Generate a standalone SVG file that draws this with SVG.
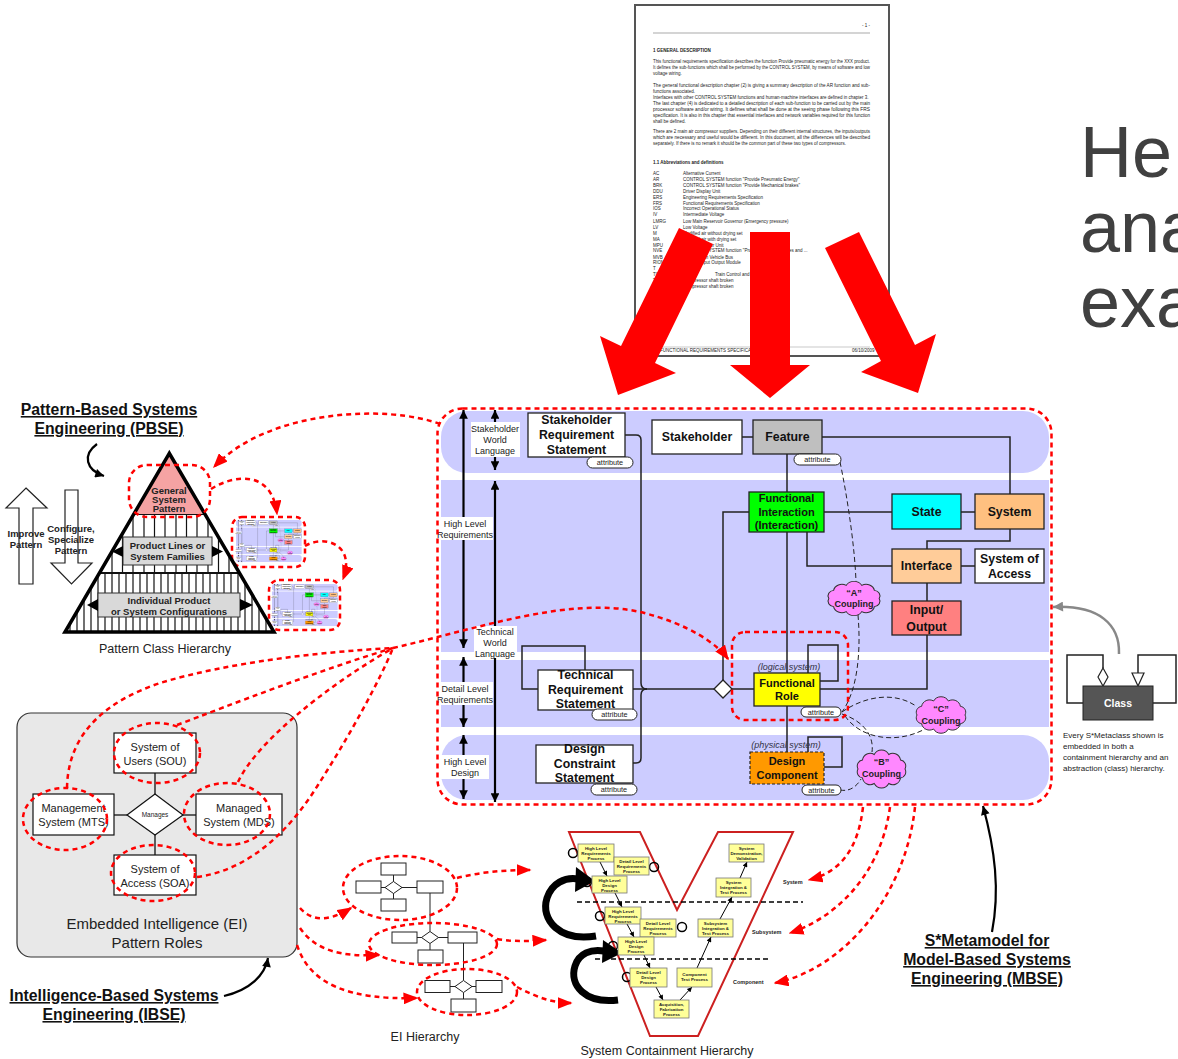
<svg xmlns="http://www.w3.org/2000/svg" width="1178" height="1059" viewBox="0 0 1178 1059">
<defs>
<style>
text{font-family:"Liberation Sans",Arial,sans-serif}
.rd{fill:none;stroke:#f00;stroke-width:2.5;stroke-dasharray:5 4}
.ln{fill:none;stroke:#222;stroke-width:1.5}
.dl{fill:none;stroke:#222;stroke-width:1;stroke-dasharray:5 3}
.nb{stroke:#222;stroke-width:1.3}
.t12{font-weight:bold;font-size:12.3px;text-anchor:middle;fill:#111}
.t11{font-weight:bold;font-size:11px;text-anchor:middle;fill:#111}
.lbl{font-size:9px;text-anchor:middle;fill:#222}
.attr{font-size:7.3px;text-anchor:middle;fill:#222}
.pill{fill:#fff;stroke:#222;stroke-width:1}
.cl{font-weight:bold;font-size:9px;text-anchor:middle;fill:#222}
.it{font-style:italic;font-size:9px;text-anchor:middle;fill:#334}
.ei{font-size:11px;text-anchor:middle;fill:#222}
.eb{fill:#fff;stroke:#111;stroke-width:1.2}
.vb{fill:#ffff99;stroke:#777;stroke-width:0.8}
.vt{font-size:4.4px;font-weight:bold;text-anchor:middle;fill:#222}
.ttl{font-size:15.8px;font-weight:bold;text-anchor:middle;fill:#111;text-decoration:underline}
.cap{font-size:12.5px;text-anchor:middle;fill:#222}
.doc{font-size:4.5px;fill:#222}
.pyr{font-weight:bold;font-size:9.5px;text-anchor:middle;fill:#222}
.ha{fill:#fff;stroke:#222;stroke-width:1.2}
.bigt{font-size:72px;fill:#404040}
</style>
<marker id="ar" viewBox="0 0 10 8" refX="9" refY="4" markerWidth="6" markerHeight="4.8" orient="auto"><path d="M0,0 L10,4 L0,8 z" fill="#f00"/></marker>
<marker id="ab" viewBox="0 0 10 10" refX="10" refY="5" markerWidth="5.5" markerHeight="4" orient="auto-start-reverse"><path d="M0,0 L10,5 L0,10 z" fill="#000"/></marker>
<marker id="ag" viewBox="0 0 10 10" refX="10" refY="5" markerWidth="5" markerHeight="4" orient="auto"><path d="M0,0 L10,5 L0,10 z" fill="#888"/></marker>
<marker id="av" viewBox="0 0 10 10" refX="10" refY="5" markerWidth="6" markerHeight="5" orient="auto"><path d="M0,0 L10,5 L0,10 z" fill="#000"/></marker>
<path id="cloud" d="M24,0 A6,6 0 0 1 19.42,8.82 A8,8 0 0 1 7.42,14.27 A8.5,8.5 0 0 1 -7.42,14.27 A8,8 0 0 1 -19.42,8.82 A6,6 0 0 1 -24,0 A6,6 0 0 1 -19.42,-8.82 A8,8 0 0 1 -7.42,-14.27 A8.5,8.5 0 0 1 7.42,-14.27 A8,8 0 0 1 19.42,-8.82 A6,6 0 0 1 24,0 Z"/>
<clipPath id="pyrclip"><polygon points="169.3,453.3 65,632 274,632"/></clipPath>
</defs>

<!-- Document -->
<g id="document">
<rect x="635" y="5" width="254" height="351" fill="#fff" stroke="#555" stroke-width="2"/>
<text class="doc" x="862" y="27" fill="#999">- 1 -</text>
<line x1="653" y1="33" x2="870" y2="33" stroke="#aaa" stroke-width="1.2"/>
<text class="doc" x="653" y="52" font-weight="bold" font-size="4.8">1      GENERAL  DESCRIPTION</text>
<text class="doc" x="653" y="63" textLength="217" lengthAdjust="spacingAndGlyphs">This functional requirements specification describes the function Provide pneumatic energy for the XXX product.</text>
<text class="doc" x="653" y="69" textLength="217" lengthAdjust="spacingAndGlyphs">It defines the sub-functions which shall be performed by the CONTROL SYSTEM, by means of software and low</text>
<text class="doc" x="653" y="75">voltage wiring.</text>
<text class="doc" x="653" y="87" textLength="217" lengthAdjust="spacingAndGlyphs">The general functional description chapter (2) is giving a summary description of the AR function and sub-</text>
<text class="doc" x="653" y="93">functions associated.</text>
<text class="doc" x="653" y="99">Interfaces with other CONTROL SYSTEM functions and human-machine interfaces are defined in chapter 3.</text>
<text class="doc" x="653" y="105" textLength="217" lengthAdjust="spacingAndGlyphs">The last chapter (4) is dedicated to a detailed description of each sub-function to be carried out by the main</text>
<text class="doc" x="653" y="111" textLength="217" lengthAdjust="spacingAndGlyphs">processor software and/or wiring. It defines what shall be done at the seeing phase following this FRS</text>
<text class="doc" x="653" y="117" textLength="217" lengthAdjust="spacingAndGlyphs">specification. It is also in this chapter that essential interfaces and network variables required for this function</text>
<text class="doc" x="653" y="123">shall be defined.</text>
<text class="doc" x="653" y="133" textLength="217" lengthAdjust="spacingAndGlyphs">There are 2 main air compressor suppliers. Depending on their different internal structures, the inputs/outputs</text>
<text class="doc" x="653" y="139" textLength="217" lengthAdjust="spacingAndGlyphs">which are necessary and useful would be different. In this document, all the differences will be described</text>
<text class="doc" x="653" y="145">separately. If there is no remark it should be the common part of these two types of compressors.</text>
<text class="doc" x="653" y="164" font-weight="bold" font-size="4.8">1.1    Abbreviations and definitions</text>
<g>
<text class="doc" x="653" y="175">AC</text><text class="doc" x="683" y="175">Alternative Current</text>
<text class="doc" x="653" y="181">AR</text><text class="doc" x="683" y="181">CONTROL SYSTEM function "Provide Pneumatic Energy"</text>
<text class="doc" x="653" y="187">BRK</text><text class="doc" x="683" y="187">CONTROL SYSTEM function "Provide Mechanical brakes"</text>
<text class="doc" x="653" y="193">DDU</text><text class="doc" x="683" y="193">Driver Display Unit</text>
<text class="doc" x="653" y="199">ERS</text><text class="doc" x="683" y="199">Engineering Requirements Specification</text>
<text class="doc" x="653" y="205">FRS</text><text class="doc" x="683" y="205">Functional Requirements Specification</text>
<text class="doc" x="653" y="210">IOS</text><text class="doc" x="683" y="210">Incorrect Operational Status</text>
<text class="doc" x="653" y="216">IV</text><text class="doc" x="683" y="216">Intermediate Voltage</text>
<text class="doc" x="653" y="223">LMRG</text><text class="doc" x="683" y="223">Low Main Reservoir Governor (Emergency pressure)</text>
<text class="doc" x="653" y="229">LV</text><text class="doc" x="683" y="229">Low Voltage</text>
<text class="doc" x="653" y="235">M</text><text class="doc" x="683" y="235">Modified air without drying set</text>
<text class="doc" x="653" y="241">MA</text><text class="doc" x="683" y="241">Modified air with drying set</text>
<text class="doc" x="653" y="247">MPU</text><text class="doc" x="683" y="247">Main Processor Unit</text>
<text class="doc" x="653" y="252">NVE</text><text class="doc" x="683" y="252">CONTROL SYSTEM function "Provide air for auxiliaries and ...</text>
<text class="doc" x="653" y="259">MVB</text><text class="doc" x="683" y="259">Multifunction Vehicle Bus</text>
<text class="doc" x="653" y="264">RIOM</text><text class="doc" x="683" y="264">Remote Input Output Module</text>
<text class="doc" x="653" y="270">T</text>
<text class="doc" x="653" y="276">TCMS</text><text class="doc" x="715" y="276">Train Control and ...</text>
<text class="doc" x="653" y="282">T1</text><text class="doc" x="683" y="282">Compressor shaft broken</text>
<text class="doc" x="653" y="288">T2</text><text class="doc" x="683" y="288">Compressor shaft broken</text>
</g>
<line x1="653" y1="347" x2="870" y2="347" stroke="#bbb" stroke-width="0.8"/>
<text class="doc" x="660" y="352" fill="#888" font-size="3.5">FUNCTIONAL REQUIREMENTS SPECIFICATION</text>
<text class="doc" x="852" y="352" fill="#888" font-size="3.5">06/10/2009</text>
</g>

<!-- Big red arrows -->
<g id="big-arrows" fill="#f00">
<polygon points="713,244 655,363 676,373 618,395 600,336 621,346 679,228"/>
<polygon points="750,232 790,232 790,365 810,365 770,398 730,365 750,365"/>
<polygon points="859,232 915,345 936,334 918,393 861,372 881,361 825,248"/>
</g>

<!-- Big heading text (cropped at the edge, as in the picture) -->
<g id="heading">
<text class="bigt" x="1080" y="177">He</text>
<text class="bigt" x="1080" y="252">ana</text>
<text class="bigt" x="1080" y="327">exa</text>
</g>

<!-- S* Metamodel -->
<g id="metamodel">
<g id="mm-content">
<g id="bands" fill="#ccccff">
<rect x="441" y="411" width="608" height="62" rx="26"/>
<rect x="441" y="480" width="608" height="172"/>
<rect x="441" y="660" width="608" height="67"/>
<rect x="441" y="735" width="608" height="65" rx="26"/>
</g>
<g id="level-arrows" stroke="#000" stroke-width="2.2" fill="none">
<line x1="463.5" y1="410" x2="463.5" y2="648" marker-start="url(#ab)" marker-end="url(#ab)"/>
<line x1="463.5" y1="657" x2="463.5" y2="727" marker-start="url(#ab)" marker-end="url(#ab)"/>
<line x1="463.5" y1="735" x2="463.5" y2="799" marker-start="url(#ab)" marker-end="url(#ab)"/>
<line x1="495" y1="410" x2="495" y2="470" marker-start="url(#ab)" marker-end="url(#ab)"/>
<line x1="495" y1="481" x2="495" y2="802" marker-start="url(#ab)" marker-end="url(#ab)"/>
</g>
<g id="level-labels">
<rect x="471" y="422" width="49" height="35" fill="#fff"/>
<text class="lbl" x="495" y="432">Stakeholder</text><text class="lbl" x="495" y="443">World</text><text class="lbl" x="495" y="454">Language</text>
<rect x="438" y="517" width="55" height="23" fill="#fff"/>
<text class="lbl" x="465" y="527">High Level</text><text class="lbl" x="465" y="538">Requirements</text>
<rect x="474" y="626" width="43" height="32" fill="#fff"/>
<text class="lbl" x="495" y="635">Technical</text><text class="lbl" x="495" y="646">World</text><text class="lbl" x="495" y="657">Language</text>
<rect x="437" y="682" width="56" height="23" fill="#fff"/>
<text class="lbl" x="465" y="692">Detail Level</text><text class="lbl" x="465" y="703">Requirements</text>
<rect x="441" y="755" width="48" height="24" fill="#fff"/>
<text class="lbl" x="465" y="765">High Level</text><text class="lbl" x="465" y="776">Design</text>
</g>
<g id="connectors">
<path class="ln" d="M625,435 L636,435 Q641,435 641,440 L641,683 Q641,689 647,689"/>
<path class="ln" d="M633,763 L636,763 Q641,763 641,758 L641,695 Q641,689 647,689"/>
<path class="ln" d="M633,689 L714,689"/>
<path class="ln" d="M538,689 L522,689 L522,646 L585,646 L585,670"/>
<path class="ln" d="M732,689 L754,689"/>
<path class="ln" d="M749,512 L723,512 L723,680"/>
<path class="ln" d="M742,437 L753,437"/>
<path class="ln" d="M822,437 L1010,437 L1010,494"/>
<path class="ln" d="M787,454 L787,492"/>
<path class="ln" d="M824,512 L892,512"/>
<path class="ln" d="M961,512 L975,512"/>
<path class="ln" d="M807,532 L807,566 L892,566"/>
<path class="ln" d="M1010,529 L1010,541 L927,541 L927,549"/>
<path class="ln" d="M961,566 L975,566"/>
<path class="ln" d="M927,583 L927,601"/>
<path class="ln" d="M927,635 L927,689 L820,689"/>
<path class="ln" d="M787,532 L787,673"/>
<path class="ln" d="M787,706 L787,752"/>
<path class="ln" d="M820,681 L838,681 L838,645 L808,645 L808,673"/>
<path class="ln" d="M824,767 L842,767 L842,737 L808,737 L808,752"/>
<path class="dl" d="M840,462 C848,500 855,550 856,582"/>
<path class="dl" d="M858,615 C861,650 858,690 842,712"/>
<path class="dl" d="M842,712 C862,698 892,690 916,706"/>
<path class="dl" d="M842,714 C866,722 874,738 872,752"/>
<path class="dl" d="M845,716 C860,738 895,745 925,729"/>
<path class="dl" d="M840,790 C850,792 857,786 861,779"/>
</g>
<g id="node-srs">
<rect x="528" y="413" width="97" height="44" fill="#fff" class="nb"/>
<text class="t12" x="576.5" y="424">Stakeholder</text><text class="t12" x="576.5" y="439">Requirement</text><text class="t12" x="576.5" y="454">Statement</text>
<rect x="587" y="457" width="46" height="11" rx="5.5" class="pill"/><text class="attr" x="610" y="465">attribute</text>
</g>
<g id="node-stakeholder">
<rect x="652" y="420" width="90" height="34" fill="#fff" class="nb"/>
<text class="t12" x="697" y="441">Stakeholder</text>
</g>
<g id="node-feature">
<rect x="753" y="420" width="69" height="34" fill="#bfbfbf" class="nb"/>
<text class="t12" x="787.5" y="441">Feature</text>
<rect x="794" y="454" width="47" height="11" rx="5.5" class="pill"/><text class="attr" x="817.5" y="462">attribute</text>
</g>
<g id="node-fi">
<rect x="749" y="492" width="75" height="40" fill="#00ff00" class="nb"/>
<text class="t11" x="786.5" y="502">Functional</text><text class="t11" x="786.5" y="516">Interaction</text><text class="t11" x="786.5" y="529">(Interaction)</text>
</g>
<g id="node-state">
<rect x="892" y="494" width="69" height="35" fill="#00ffff" class="nb"/>
<text class="t12" x="926.5" y="516">State</text>
</g>
<g id="node-system">
<rect x="975" y="494" width="69" height="35" fill="#ffc080" class="nb"/>
<text class="t12" x="1009.5" y="516">System</text>
</g>
<g id="node-interface">
<rect x="892" y="549" width="69" height="34" fill="#ffcc99" class="nb"/>
<text class="t12" x="926.5" y="570">Interface</text>
</g>
<g id="node-soa">
<rect x="975" y="549" width="69" height="34" fill="#fff" class="nb"/>
<text class="t12" x="1009.5" y="563">System of</text><text class="t12" x="1009.5" y="578">Access</text>
</g>
<g id="node-io">
<rect x="892" y="601" width="69" height="34" fill="#ff8080" class="nb"/>
<text class="t12" x="926.5" y="614">Input/</text><text class="t12" x="926.5" y="631">Output</text>
</g>
<g id="node-trs">
<rect x="538" y="670" width="95" height="40" fill="#fff" class="nb"/>
<text class="t12" x="585.5" y="679">Technical</text><text class="t12" x="585.5" y="694">Requirement</text><text class="t12" x="585.5" y="708">Statement</text>
<rect x="592" y="709" width="45" height="11" rx="5.5" class="pill"/><text class="attr" x="614.5" y="717">attribute</text>
</g>
<g id="node-diamond">
<polygon points="714,689 723,680 732,689 723,698" fill="#fff" class="nb"/>
</g>
<g id="node-fr">
<text class="it" x="789" y="670">(logical system)</text>
<rect x="754" y="673" width="66" height="33" fill="#ffff00" class="nb"/>
<text class="t11" x="787" y="687">Functional</text><text class="t11" x="787" y="700">Role</text>
<rect x="801" y="707" width="40" height="10" rx="5" class="pill"/><text class="attr" x="821" y="714.5">attribute</text>
</g>
<g id="node-dcs">
<rect x="536" y="745" width="97" height="38" fill="#fff" class="nb"/>
<text class="t12" x="584.5" y="753">Design</text><text class="t12" x="584.5" y="768">Constraint</text><text class="t12" x="584.5" y="782">Statement</text>
<rect x="591" y="784" width="46" height="11" rx="5.5" class="pill"/><text class="attr" x="614" y="792">attribute</text>
</g>
<g id="node-dc">
<text class="it" x="786" y="748">(physical system)</text>
<rect x="750" y="752" width="74" height="32" fill="#ff9900" stroke="#222" stroke-width="1.2" stroke-dasharray="3 2"/>
<text class="t11" x="787" y="765">Design</text><text class="t11" x="787" y="779">Component</text>
<rect x="802" y="785" width="39" height="10" rx="5" class="pill"/><text class="attr" x="821.5" y="792.5">attribute</text>
</g>
<g id="cloud-a">
<use href="#cloud" transform="translate(854,598.5) scale(1.05,0.92)" fill="#ff88ff" stroke="#333" stroke-width="1"/>
<text class="cl" x="854" y="596">“A”</text><text class="cl" x="854" y="607">Coupling</text>
</g>
<g id="cloud-c">
<use href="#cloud" transform="translate(941,715) scale(1.0,0.98)" fill="#ff88ff" stroke="#333" stroke-width="1"/>
<text class="cl" x="941" y="712">“C”</text><text class="cl" x="941" y="724">Coupling</text>
</g>
<g id="cloud-b">
<use href="#cloud" transform="translate(881.5,769) scale(0.98,1.02)" fill="#ff88ff" stroke="#333" stroke-width="1"/>
<text class="cl" x="881.5" y="765">“B”</text><text class="cl" x="881.5" y="777">Coupling</text>
</g>
</g>
<rect x="732" y="632" width="116" height="88" rx="13" class="rd"/>
<rect x="437.5" y="408.5" width="614" height="396" rx="25" class="rd"/>
</g>

<!-- Class -->
<g id="class-node">
<path class="ln" d="M1083,703 L1067,703 L1067,655 L1103,655 L1103,668"/>
<polygon points="1103,668 1108,677 1103,686 1098,677" fill="#fff" stroke="#222" stroke-width="1.2"/>
<path class="ln" d="M1153,703 L1176,703 L1176,655 L1138,655 L1138,673"/>
<polygon points="1132,673 1144,673 1138,686" fill="#fff" stroke="#222" stroke-width="1.2"/>
<rect x="1083" y="686" width="70" height="34" fill="#555" stroke="#222" stroke-width="1"/>
<text x="1118" y="707" font-size="10.5" font-weight="bold" text-anchor="middle" fill="#fff">Class</text>
<text x="1063" y="738" font-size="8" fill="#222">Every S*Metaclass shown is</text>
<text x="1063" y="749" font-size="8" fill="#222">embedded in both a</text>
<text x="1063" y="760" font-size="8" fill="#222">containment hierarchy and an</text>
<text x="1063" y="771" font-size="8" fill="#222">abstraction (class) hierarchy.</text>
</g>

<!-- Mini copies -->
<g id="mini-1">
<use href="#mm-content" transform="translate(236,520) scale(0.108) translate(-441,-411)"/>
<rect x="232" y="517" width="73" height="50" rx="10" class="rd"/>
</g>
<g id="mini-2">
<use href="#mm-content" transform="translate(272,584) scale(0.108) translate(-441,-411)"/>
<rect x="269" y="580" width="71" height="50" rx="10" class="rd"/>
</g>

<!-- PBSE title -->
<g id="pbse-title">
<text class="ttl" x="109" y="415">Pattern-Based Systems</text>
<text class="ttl" x="109" y="434">Engineering (PBSE)</text>
</g>

<!-- Pyramid -->
<g id="pyramid">
<g clip-path="url(#pyrclip)" stroke="#111" stroke-width="1.2">
<g id="mid-lines">
<line x1="112" y1="514" x2="112" y2="573"/><line x1="122.5" y1="514" x2="122.5" y2="573"/><line x1="133" y1="514" x2="133" y2="573"/><line x1="144" y1="514" x2="144" y2="573"/><line x1="154.5" y1="514" x2="154.5" y2="573"/><line x1="165" y1="514" x2="165" y2="573"/><line x1="176" y1="514" x2="176" y2="573"/><line x1="186.5" y1="514" x2="186.5" y2="573"/><line x1="197" y1="514" x2="197" y2="573"/><line x1="208" y1="514" x2="208" y2="573"/><line x1="218.5" y1="514" x2="218.5" y2="573"/><line x1="229" y1="514" x2="229" y2="573"/>
</g>
<g id="low-lines">
<line x1="70" y1="573" x2="70" y2="632"/><line x1="77" y1="573" x2="77" y2="632"/><line x1="84" y1="573" x2="84" y2="632"/><line x1="91" y1="573" x2="91" y2="632"/><line x1="98" y1="573" x2="98" y2="632"/><line x1="105" y1="573" x2="105" y2="632"/><line x1="112" y1="573" x2="112" y2="632"/><line x1="119" y1="573" x2="119" y2="632"/><line x1="126" y1="573" x2="126" y2="632"/><line x1="133" y1="573" x2="133" y2="632"/><line x1="140" y1="573" x2="140" y2="632"/><line x1="147" y1="573" x2="147" y2="632"/><line x1="154" y1="573" x2="154" y2="632"/><line x1="161" y1="573" x2="161" y2="632"/><line x1="168" y1="573" x2="168" y2="632"/><line x1="175" y1="573" x2="175" y2="632"/><line x1="182" y1="573" x2="182" y2="632"/><line x1="189" y1="573" x2="189" y2="632"/><line x1="196" y1="573" x2="196" y2="632"/><line x1="203" y1="573" x2="203" y2="632"/><line x1="210" y1="573" x2="210" y2="632"/><line x1="217" y1="573" x2="217" y2="632"/><line x1="224" y1="573" x2="224" y2="632"/><line x1="231" y1="573" x2="231" y2="632"/><line x1="238" y1="573" x2="238" y2="632"/><line x1="245" y1="573" x2="245" y2="632"/><line x1="252" y1="573" x2="252" y2="632"/><line x1="259" y1="573" x2="259" y2="632"/><line x1="266" y1="573" x2="266" y2="632"/>
</g>
<line x1="60" y1="514" x2="280" y2="514" stroke-width="1.8"/>
<line x1="60" y1="573" x2="280" y2="573" stroke-width="1.8"/>
</g>
<polygon points="169.3,453.3 133.6,514 205,514" fill="#f5a3a3"/>
<polygon points="169.3,453.3 65,632 274,632" fill="none" stroke="#000" stroke-width="3.5" stroke-linejoin="miter"/>
<text class="pyr" x="169" y="494" font-size="8.5">General</text>
<text class="pyr" x="169" y="503" font-size="8.5">System</text>
<text class="pyr" x="169" y="512" font-size="8.5">Pattern</text>
<g id="box-product-lines">
<rect x="123" y="537" width="89" height="28" fill="#d9d9d9" stroke="#333" stroke-width="1"/>
<text class="pyr" x="167.5" y="549">Product Lines or</text>
<text class="pyr" x="167.5" y="560">System Families</text>
<polygon points="123,546 112,551.5 123,557" fill="#000"/>
<polygon points="212,546 223,551.5 212,557" fill="#000"/>
</g>
<g id="box-individual">
<rect x="98" y="593" width="142" height="24" fill="#d9d9d9" stroke="#333" stroke-width="1"/>
<text class="pyr" x="169" y="604">Individual Product</text>
<text class="pyr" x="169" y="615">or System Configurations</text>
<polygon points="98,599 87,605 98,611" fill="#000"/>
<polygon points="240,599 253,605 240,611" fill="#000"/>
</g>
<text class="cap" x="165" y="653">Pattern Class Hierarchy</text>
</g>

<g id="improve-arrow">
<polygon points="26,488 47,508 33,508 33,584 19,584 19,508 6,508" class="ha"/>
<text class="pyr" x="26" y="537" font-size="8.5">Improve</text>
<text class="pyr" x="26" y="548" font-size="8.5">Pattern</text>
</g>
<g id="configure-arrow">
<polygon points="65,490 78,490 78,563 92,563 71.5,584 51,563 65,563" class="ha"/>
<text class="pyr" x="71" y="532" font-size="8.5">Configure,</text>
<text class="pyr" x="71" y="543" font-size="8.5">Specialize</text>
<text class="pyr" x="71" y="554" font-size="8.5">Pattern</text>
</g>

<!-- EI Pattern Roles -->
<g id="ei-box">
<rect x="17" y="713" width="280" height="244" rx="14" fill="#e8e8e8" stroke="#333" stroke-width="1.2"/>
<text x="157" y="929" font-size="15" text-anchor="middle" fill="#222">Embedded Intelligence (EI)</text>
<text x="157" y="948" font-size="15" text-anchor="middle" fill="#222">Pattern Roles</text>
<g stroke="#111" stroke-width="1.3">
<line x1="155" y1="773" x2="155" y2="794"/><line x1="155" y1="835" x2="155" y2="855"/>
<line x1="114" y1="815" x2="127" y2="815"/><line x1="183" y1="815" x2="196" y2="815"/>
</g>
<g id="ei-sou"><rect x="114" y="733" width="82" height="40" class="eb"/><text class="ei" x="155" y="751">System of</text><text class="ei" x="155" y="765">Users (SOU)</text></g>
<g id="ei-mts"><rect x="33" y="794" width="81" height="41" class="eb"/><text class="ei" x="73.5" y="812">Management</text><text class="ei" x="73.5" y="826">System (MTS)</text></g>
<g id="ei-manages"><polygon points="127,815 155,794 183,815 155,835" class="eb"/><text x="155" y="817" font-size="6.5" text-anchor="middle" fill="#222">Manages</text></g>
<g id="ei-mds"><rect x="196" y="794" width="86" height="41" class="eb"/><text class="ei" x="239" y="812">Managed</text><text class="ei" x="239" y="826">System (MDS)</text></g>
<g id="ei-soa"><rect x="114" y="855" width="82" height="40" class="eb"/><text class="ei" x="155" y="873">System of</text><text class="ei" x="155" y="887">Access (SOA)</text></g>
<ellipse cx="157" cy="753" rx="43" ry="30" class="rd"/>
<ellipse cx="65" cy="819" rx="42" ry="31" class="rd"/>
<ellipse cx="227" cy="814" rx="43" ry="31" class="rd"/>
<ellipse cx="153" cy="873" rx="42" ry="28" class="rd"/>
</g>

<!-- EI Hierarchy -->
<g id="ei-hierarchy" fill="#fff" stroke="#222" stroke-width="1">
<g id="eih-1">
<line x1="393.5" y1="875" x2="393.5" y2="899"/><line x1="381" y1="887.5" x2="417" y2="887.5"/>
<rect x="381" y="863" width="25" height="12"/><rect x="356" y="881" width="25" height="12"/><rect x="417" y="881" width="26" height="12"/><rect x="381" y="899" width="25" height="12"/>
<polygon points="385,887.5 393.5,881.5 402,887.5 393.5,893.5"/>
</g>
<line x1="430" y1="893" x2="430" y2="931.5"/>
<g id="eih-2">
<line x1="417" y1="937.5" x2="448" y2="937.5"/><line x1="430" y1="943.5" x2="430" y2="950"/>
<rect x="392" y="932" width="25" height="11"/><rect x="448" y="932" width="29" height="11"/><rect x="418" y="950" width="25" height="13"/>
<polygon points="421.5,937.5 430,931.5 438.5,937.5 430,943.5"/>
</g>
<line x1="463.5" y1="943" x2="463.5" y2="980.5"/>
<g id="eih-3">
<line x1="450" y1="986.5" x2="476" y2="986.5"/><line x1="463.5" y1="992.5" x2="463.5" y2="999"/>
<rect x="425" y="980.5" width="25" height="12"/><rect x="476" y="980.5" width="26" height="12"/><rect x="451" y="999" width="25" height="13"/>
<polygon points="455,986.5 463.5,980.5 472,986.5 463.5,992.5"/>
</g>
</g>
<g id="eih-ellipses">
<ellipse cx="400" cy="888" rx="57" ry="32" class="rd"/>
<ellipse cx="433" cy="944" rx="64" ry="21" class="rd"/>
<ellipse cx="467" cy="992" rx="50" ry="23" class="rd"/>
</g>
<text class="cap" x="425" y="1041" font-size="12">EI Hierarchy</text>

<!-- V diagram -->
<g id="v-diagram">
<polygon points="569,832 640,832 677,910 718,832 793,832 698,1036 650,1036" fill="#fff" stroke="#cc2020" stroke-width="2"/>
<line x1="577" y1="902" x2="803" y2="902" stroke="#000" stroke-width="1.6" stroke-dasharray="5 3"/>
<line x1="595" y1="959" x2="770" y2="959" stroke="#000" stroke-width="1.6" stroke-dasharray="5 3"/>
<g id="v-arrows" stroke="#000" stroke-width="1" fill="none">
<line x1="600" y1="862" x2="607" y2="876" marker-end="url(#av)"/>
<line x1="615" y1="893" x2="622" y2="907" marker-end="url(#av)"/>
<line x1="627" y1="924" x2="634" y2="937" marker-end="url(#av)"/>
<line x1="644" y1="955" x2="650" y2="968" marker-end="url(#av)"/>
<line x1="656" y1="987" x2="663" y2="1000" marker-end="url(#av)"/>
<line x1="680" y1="1000" x2="692" y2="987" marker-end="url(#av)"/>
<line x1="697" y1="968" x2="711" y2="937" marker-end="url(#av)"/>
<line x1="720" y1="919" x2="732" y2="897" marker-end="url(#av)"/>
<line x1="740" y1="878" x2="747" y2="862" marker-end="url(#av)"/>
</g>
<g id="v-loops" fill="none" stroke="#000" stroke-width="1.5">
<circle cx="573" cy="853" r="4.5"/><circle cx="654" cy="867" r="4.5"/><circle cx="587" cy="882" r="4.5"/><circle cx="600" cy="916" r="4.5"/><circle cx="682" cy="927" r="4.5"/><circle cx="613" cy="946" r="4.5"/><circle cx="627" cy="977" r="4.5"/>
</g>
<g id="v-big-loops">
<path d="M596,936 C560,942 540,920 547,898 C552,883 565,877 578,879" fill="none" stroke="#000" stroke-width="7"/>
<polygon points="576,867 595,881 575,892" fill="#000"/>
<path d="M618,1000 C585,1004 569,985 575,966 C579,953 591,949 604,951" fill="none" stroke="#000" stroke-width="7"/>
<polygon points="603,940 622,953 602,963" fill="#000"/>
</g>
<g id="v-boxes">
<g><rect x="578" y="844" width="36" height="18" class="vb"/><text class="vt" x="596" y="849.5">High Level</text><text class="vt" x="596" y="854.5">Requirements</text><text class="vt" x="596" y="859.5">Process</text></g>
<g><rect x="614" y="857" width="35" height="18" class="vb"/><text class="vt" x="631.5" y="862.5">Detail Level</text><text class="vt" x="631.5" y="867.5">Requirements</text><text class="vt" x="631.5" y="872.5">Process</text></g>
<g><rect x="592" y="876" width="35" height="17" class="vb"/><text class="vt" x="609.5" y="881.5">High Level</text><text class="vt" x="609.5" y="886.5">Design</text><text class="vt" x="609.5" y="891.5">Process</text></g>
<g><rect x="605" y="907" width="36" height="17" class="vb"/><text class="vt" x="623" y="912.5">High Level</text><text class="vt" x="623" y="917.5">Requirements</text><text class="vt" x="623" y="922.5">Process</text></g>
<g><rect x="640" y="919" width="36" height="18" class="vb"/><text class="vt" x="658" y="924.5">Detail Level</text><text class="vt" x="658" y="929.5">Requirements</text><text class="vt" x="658" y="934.5">Process</text></g>
<g><rect x="618" y="937" width="36" height="18" class="vb"/><text class="vt" x="636" y="942.5">High Level</text><text class="vt" x="636" y="947.5">Design</text><text class="vt" x="636" y="952.5">Process</text></g>
<g><rect x="630" y="968" width="37" height="19" class="vb"/><text class="vt" x="648.5" y="974">Detail Level</text><text class="vt" x="648.5" y="979">Design</text><text class="vt" x="648.5" y="984">Process</text></g>
<g><rect x="654" y="1000" width="35" height="18" class="vb"/><text class="vt" x="671.5" y="1005.5">Acquisition,</text><text class="vt" x="671.5" y="1010.5">Fabrication</text><text class="vt" x="671.5" y="1015.5">Process</text></g>
<g><rect x="677" y="968" width="35" height="19" class="vb"/><text class="vt" x="694.5" y="976">Component</text><text class="vt" x="694.5" y="981">Test Process</text></g>
<g><rect x="698" y="919" width="35" height="18" class="vb"/><text class="vt" x="715.5" y="924.5">Subsystem</text><text class="vt" x="715.5" y="929.5">Integration &amp;</text><text class="vt" x="715.5" y="934.5">Test Process</text></g>
<g><rect x="716" y="878" width="35" height="19" class="vb"/><text class="vt" x="733.5" y="884">System</text><text class="vt" x="733.5" y="889">Integration &amp;</text><text class="vt" x="733.5" y="894">Test Process</text></g>
<g><rect x="729" y="844" width="35" height="18" class="vb"/><text class="vt" x="746.5" y="849.5">System</text><text class="vt" x="746.5" y="854.5">Demonstration,</text><text class="vt" x="746.5" y="859.5">Validation</text></g>
</g>
<text x="783" y="884" font-size="5.5" font-weight="bold" fill="#222">System</text>
<text x="752" y="934" font-size="5.5" font-weight="bold" fill="#222">Subsystem</text>
<text x="733" y="984" font-size="5.5" font-weight="bold" fill="#222">Component</text>
<text class="cap" x="667" y="1055">System Containment Hierarchy</text>
</g>

<!-- Titles -->
<g id="mbse-title">
<text class="ttl" x="987" y="946">S*Metamodel for</text>
<text class="ttl" x="987" y="965">Model-Based Systems</text>
<text class="ttl" x="987" y="984">Engineering (MBSE)</text>
</g>
<g id="ibse-title">
<text class="ttl" x="114" y="1001">Intelligence-Based Systems</text>
<text class="ttl" x="114" y="1020">Engineering (IBSE)</text>
</g>

<!-- Connectors (red dashed + black curved) -->
<g id="links">
<rect x="129" y="465" width="81" height="52" rx="18" class="rd"/>
<path class="rd" d="M440,424 C390,405 270,408 214,467" marker-end="url(#ar)"/>
<path class="rd" d="M211,489 C235,474 272,470 277,514" marker-end="url(#ar)"/>
<path class="rd" d="M305,546 C325,534 356,545 343,579" marker-end="url(#ar)"/>
<path class="rd" d="M67,788 C68,730 110,700 160,683 C230,662 320,652 393,648"/>
<path class="rd" d="M177,725 C230,705 320,670 393,648"/>
<path class="rd" d="M238,782 C255,745 320,690 393,648"/>
<path class="rd" d="M197,877 C250,870 290,830 318,785 C350,735 380,680 393,648"/>
<path class="rd" d="M393,648 C480,628 570,596 640,612 C690,624 718,645 728,659" marker-end="url(#ar)"/>
<path class="rd" d="M300,908 C315,925 335,918 351,908" marker-end="url(#ar)"/>
<path class="rd" d="M300,928 C315,950 340,957 379,955" marker-end="url(#ar)"/>
<path class="rd" d="M297,945 C310,985 350,1000 417,998" marker-end="url(#ar)"/>
<path class="rd" d="M457,878 C480,872 505,870 530,870" marker-end="url(#ar)"/>
<path class="rd" d="M497,939 C515,942 530,941 546,940" marker-end="url(#ar)"/>
<path class="rd" d="M517,987 C535,996 550,1003 571,1003" marker-end="url(#ar)"/>
<path class="rd" d="M863,807 C858,850 840,872 809,880" marker-end="url(#ar)"/>
<path class="rd" d="M890,807 C880,880 830,920 790,933" marker-end="url(#ar)"/>
<path class="rd" d="M915,807 C905,900 840,970 775,983" marker-end="url(#ar)"/>
<path d="M97,444 C82,455 86,470 104,476" fill="none" stroke="#000" stroke-width="2.2" marker-end="url(#ab)"/>
<path d="M992,932 C1000,890 995,850 983,806" fill="none" stroke="#000" stroke-width="2.2" marker-end="url(#ab)"/>
<path d="M224,996 C250,990 265,975 268,958" fill="none" stroke="#000" stroke-width="2.2" marker-end="url(#ab)"/>
<path d="M1119,654 C1120,625 1100,605 1053,607" fill="none" stroke="#888" stroke-width="2.5" marker-end="url(#ag)"/>
</g>
</svg>
